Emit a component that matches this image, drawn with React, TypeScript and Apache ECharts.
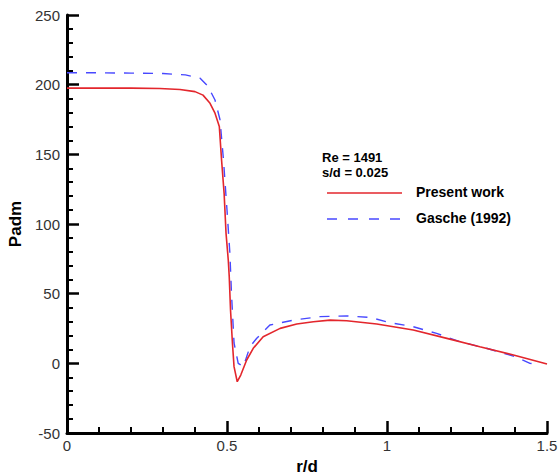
import React, { useEffect, useRef } from "react";
import * as echarts from "echarts";

const presentX = [0, 0.1, 0.2, 0.29, 0.353, 0.4, 0.425, 0.447, 0.4625, 0.476, 0.483, 0.491, 0.497, 0.504, 0.507, 0.511, 0.517, 0.522, 0.532, 0.543, 0.5615, 0.582, 0.613, 0.666, 0.718, 0.77, 0.822, 0.874, 0.968, 1.082, 1.187, 1.29, 1.395, 1.5];
const presentY = [197.5, 197.5, 197.5, 197.3, 196.5, 195, 192.5, 186.6, 179.5, 169.9, 146, 122, 93.3, 74, 62.2, 38.3, 14.4, -2.4, -13.2, -8.4, 2.4, 10.8, 19.1, 25.1, 28.2, 29.9, 31, 30.6, 28.2, 23.9, 17.9, 11.9, 6, -0.5];

const gascheX = [0, 0.1, 0.2, 0.3, 0.37, 0.416, 0.44, 0.4625, 0.478, 0.489, 0.5, 0.509, 0.514, 0.522, 0.535, 0.551, 0.572, 0.593, 0.634, 0.707, 0.79, 0.874, 0.947, 1.009, 1.082, 1.155, 1.228, 1.311, 1.395, 1.447, 1.47];
const gascheY = [208.6, 208.5, 208.3, 208, 207, 204.6, 199, 189, 175, 146, 110, 79, 50, 14.6, 0, -2.4, 12, 18, 27.5, 31, 33.5, 34, 33, 29.2, 26.3, 21.5, 15.5, 10.8, 5.2, 0, -0.5];

const xTicks = [0, 0.5, 1, 1.5];
const yTicks = [-50, 0, 50, 100, 150, 200, 250];

const legendNote = ["Re = 1491", "s/d = 0.025"];
const seriesNames = ["Present work", "Gasche (1992)"];

const RED = "#e3262c";
const BLUE = "#4848ff";
const FONT = "Arial, Liberation Sans, sans-serif";

export default function App() {
  const ref = useRef<HTMLDivElement>(null);
  useEffect(() => {
    if (!ref.current) return;
    const chart = echarts.init(ref.current, undefined, { renderer: "svg" });
    const axisCommon = {
      axisLine: { show: true, onZero: false, lineStyle: { color: "#000", width: 3 } },
      axisTick: { show: true, inside: true, length: 12, lineStyle: { color: "#000", width: 2.5 } },
      minorTick: { show: true, splitNumber: 5, length: 6, lineStyle: { color: "#000", width: 2 } },
      splitLine: { show: false },
      axisLabel: { color: "#333", fontSize: 15, fontFamily: FONT },
    };
    chart.setOption({
      animation: false,
      backgroundColor: "#fff",
      grid: { left: 67, right: 11, top: 15, bottom: 42, containLabel: false, outerBoundsMode: "none" },
      xAxis: {
        type: "value",
        min: xTicks[0],
        max: xTicks[xTicks.length - 1],
        interval: 0.5,
        ...axisCommon,
        axisLabel: { ...axisCommon.axisLabel, margin: 5, formatter: (v: number) => String(v) },
        name: "r/d",
        nameLocation: "middle",
        nameGap: 22,
        nameTextStyle: { fontSize: 17, fontWeight: "bold", color: "#000", fontFamily: FONT },
      },
      yAxis: {
        type: "value",
        min: yTicks[0],
        max: yTicks[yTicks.length - 1],
        interval: 50,
        ...axisCommon,
        axisLabel: { ...axisCommon.axisLabel, margin: 7 },
        name: "Padm",
        nameLocation: "middle",
        nameGap: 37,
        nameTextStyle: { fontSize: 17, fontWeight: "bold", color: "#000", fontFamily: FONT },
      },
      series: [
        {
          name: seriesNames[0],
          type: "line",
          showSymbol: false,
          data: presentX.map((x, i) => [x, presentY[i]]),
          lineStyle: { color: RED, width: 1.6 },
          z: 3,
        },
        {
          name: seriesNames[1],
          type: "line",
          showSymbol: false,
          data: gascheX.map((x, i) => [x, gascheY[i]]),
          lineStyle: { color: BLUE, width: 1.4, type: [10, 9] },
          z: 2,
        },
      ],
      graphic: [
        { type: "text", left: 322, top: 151, style: { text: legendNote[0], font: "bold 13px " + FONT, fill: "#000" } },
        { type: "text", left: 322, top: 166, style: { text: legendNote[1], font: "bold 13px " + FONT, fill: "#000" } },
        { type: "line", shape: { x1: 327, y1: 193, x2: 402, y2: 193 }, style: { stroke: RED, lineWidth: 1.6 } },
        { type: "text", left: 416, top: 185, style: { text: seriesNames[0], font: "bold 14px " + FONT, fill: "#000" } },
        { type: "line", shape: { x1: 327, y1: 219, x2: 402, y2: 219 }, style: { stroke: BLUE, lineWidth: 1.4, lineDash: [10, 11] } },
        { type: "text", left: 416, top: 211, style: { text: seriesNames[1], font: "bold 14px " + FONT, fill: "#000" } },
      ],
    });
    return () => chart.dispose();
  }, []);
  return <div ref={ref} style={{ width: 558, height: 475, position: "absolute", left: 0, top: 0 }} />;
}
